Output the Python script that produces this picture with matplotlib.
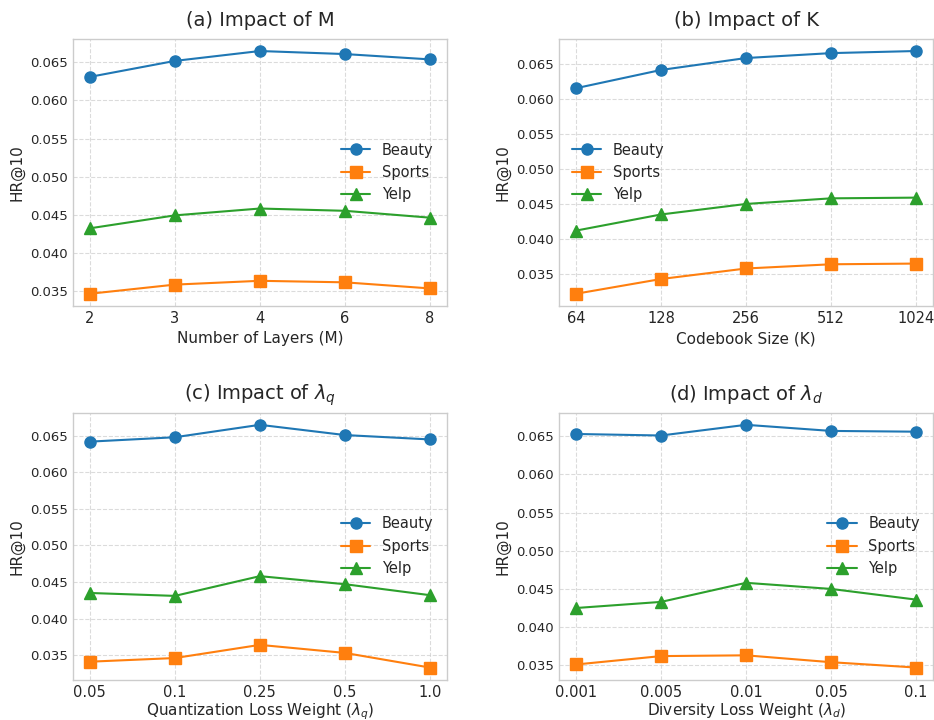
import numpy as np
import matplotlib.pyplot as plt

plt.style.use('seaborn-v0_8-whitegrid')
plt.rcParams['font.family'] = ['DejaVu Sans']

# panel (a): number of layers
layers = ['2', '3', '4', '6', '8']
beauty_m = [0.0631, 0.0652, 0.0665, 0.0661, 0.0654]
sports_m = [0.0346, 0.0358, 0.0363, 0.0361, 0.0353]
yelp_m = [0.0432, 0.0449, 0.0458, 0.0455, 0.0446]

# panel (b): codebook size
codebook = ['64', '128', '256', '512', '1024']
beauty_k = [0.0615, 0.0641, 0.0658, 0.0665, 0.0668]
sports_k = [0.0322, 0.0343, 0.0358, 0.0364, 0.0365]
yelp_k = [0.0412, 0.0435, 0.0450, 0.0458, 0.0459]

# panel (c): quantization loss weight
lam_q = ['0.05', '0.1', '0.25', '0.5', '1.0']
beauty_q = [0.0642, 0.0648, 0.0665, 0.0651, 0.0645]
sports_q = [0.0341, 0.0346, 0.0364, 0.0353, 0.0333]
yelp_q = [0.0435, 0.0431, 0.0458, 0.0447, 0.0432]

# panel (d): diversity loss weight
lam_d = ['0.001', '0.005', '0.01', '0.05', '0.1']
beauty_d = [0.0653, 0.0651, 0.0665, 0.0657, 0.0656]
sports_d = [0.0351, 0.0362, 0.0363, 0.0354, 0.0347]
yelp_d = [0.0425, 0.0433, 0.0458, 0.0450, 0.0436]

panels = [
    (layers, beauty_m, sports_m, yelp_m, '(a) Impact of M', 'Number of Layers (M)', 'center right'),
    (codebook, beauty_k, sports_k, yelp_k, '(b) Impact of K', 'Codebook Size (K)', 'center left'),
    (lam_q, beauty_q, sports_q, yelp_q, r'(c) Impact of $\lambda_q$', r'Quantization Loss Weight ($\lambda_q$)', 'center right'),
    (lam_d, beauty_d, sports_d, yelp_d, r'(d) Impact of $\lambda_d$', r'Diversity Loss Weight ($\lambda_d$)', 'center right'),
]

fig, axs = plt.subplots(2, 2, figsize=(9.34, 7.2), dpi=100)
fig.subplots_adjust(left=0.078, right=0.999, top=0.946, bottom=0.056, wspace=0.30, hspace=0.40)

for i, (ax, (labels, b, s, y, title, xlabel, loc)) in enumerate(zip(axs.flat, panels)):
    x = np.arange(len(labels))
    ax.plot(x, b, marker='o', color='#1f77b4', markersize=8, linewidth=1.5, label='Beauty')
    ax.plot(x, s, marker='s', color='#ff7f0e', markersize=8, linewidth=1.5, label='Sports')
    ax.plot(x, y, marker='^', color='#2ca02c', markersize=8, linewidth=1.5, label='Yelp')
    ax.set_xticks(x)
    ax.set_xticklabels(labels, fontsize=10.5)
    ax.tick_params(axis='y', labelsize=9.5)
    ax.set_title(title, fontsize=14, pad=9)
    # bottom row labels sit a bit tighter so they stay inside the figure
    ax.set_xlabel(xlabel, fontsize=11, labelpad=1 if i >= 2 else 4)
    ax.set_ylabel('HR@10', fontsize=11)
    ax.grid(True, linestyle='--', linewidth=0.8, alpha=0.7)
    ax.legend(loc=loc, fontsize=10.5)

plt.savefig('out.png', dpi=100)
